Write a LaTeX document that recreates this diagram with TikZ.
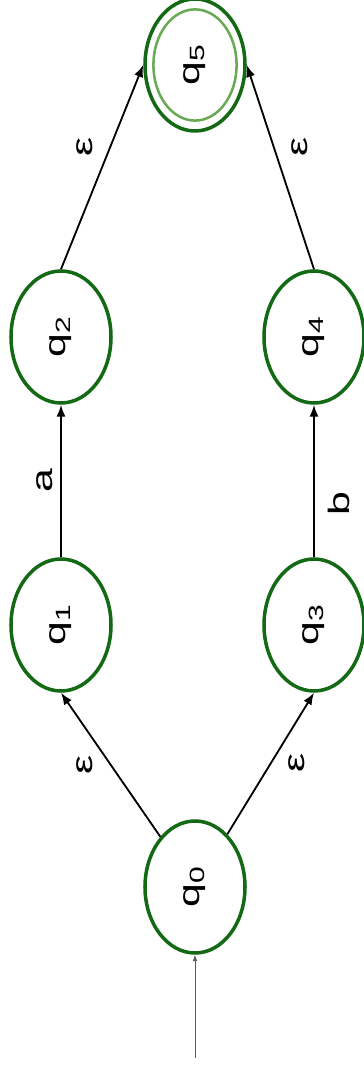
\documentclass[tikz,border=0pt]{standalone}
\usepackage{graphicx}
\usepackage{fontspec}
\setmainfont{Liberation Sans}
\usepackage{tikz}
\usetikzlibrary{arrows.meta,shapes.geometric}
\definecolor{stategreen}{RGB}{20,105,20}
\definecolor{acceptgreen}{RGB}{105,170,85}
% labels are turned on their side and stretched along the reading direction
\newcommand{\vtext}[1]{\rotatebox{90}{\scalebox{1.45}[1]{#1}}}

\begin{document}
\begin{tikzpicture}[>={Latex[length=3mm,width=2.3mm]},
  state/.style={ellipse,draw=stategreen,line width=2.5pt,minimum width=2.5cm,
    minimum height=3.3cm,inner sep=0pt,font=\fontsize{21}{24}\selectfont},
  trans/.style={->,line width=1.3pt},
  lab/.style={font=\fontsize{21}{24}\selectfont,inner sep=2pt}]
  \useasboundingbox (0,0) rectangle (9.1,26.7);
  % states
  \node[state] (q0) at (4.875,4.525) {\vtext{q\textsubscript{0}}};
  \node[state] (q1) at (1.525,11.075) {\vtext{q\textsubscript{1}}};
  \node[state] (q3) at (7.85,11.075) {\vtext{q\textsubscript{3}}};
  \node[state] (q2) at (1.525,18.275) {\vtext{q\textsubscript{2}}};
  \node[state] (q4) at (7.85,18.275) {\vtext{q\textsubscript{4}}};
  \node[state] (q5) at (4.875,25.075) {\vtext{q\textsubscript{5}}};
  \draw[acceptgreen,line width=1.8pt] (q5.center) ellipse (1.04cm and 1.39cm);
  % initial arrow
  \coordinate (start) at (4.875,0.25);
  \draw[->,gray!70!black,line width=0.6pt,>={Latex[length=1.6mm,width=1.2mm]}]
    (start) -- (q0.south);
  % transitions
  \draw[trans] (q0) -- (q1.south) node[midway,left=0.35cm,lab]{\vtext{ε}};
  \draw[trans] (q0) -- (q3.south) node[midway,right=0.35cm,lab]{\vtext{ε}};
  \draw[trans] (q1) -- (q2) node[midway,left=0.1cm,lab]{\vtext{a}};
  \draw[trans] (q3) -- (q4) node[pos=0.35,right=0.25cm,lab]{\vtext{b}};
  \draw[trans] (q2.north) -- (q5.west) node[pos=0.6,left=0.35cm,lab]{\vtext{ε}};
  \draw[trans] (q4.north) -- (q5.east) node[pos=0.6,right=0.35cm,lab]{\vtext{ε}};
\end{tikzpicture}
\end{document}
